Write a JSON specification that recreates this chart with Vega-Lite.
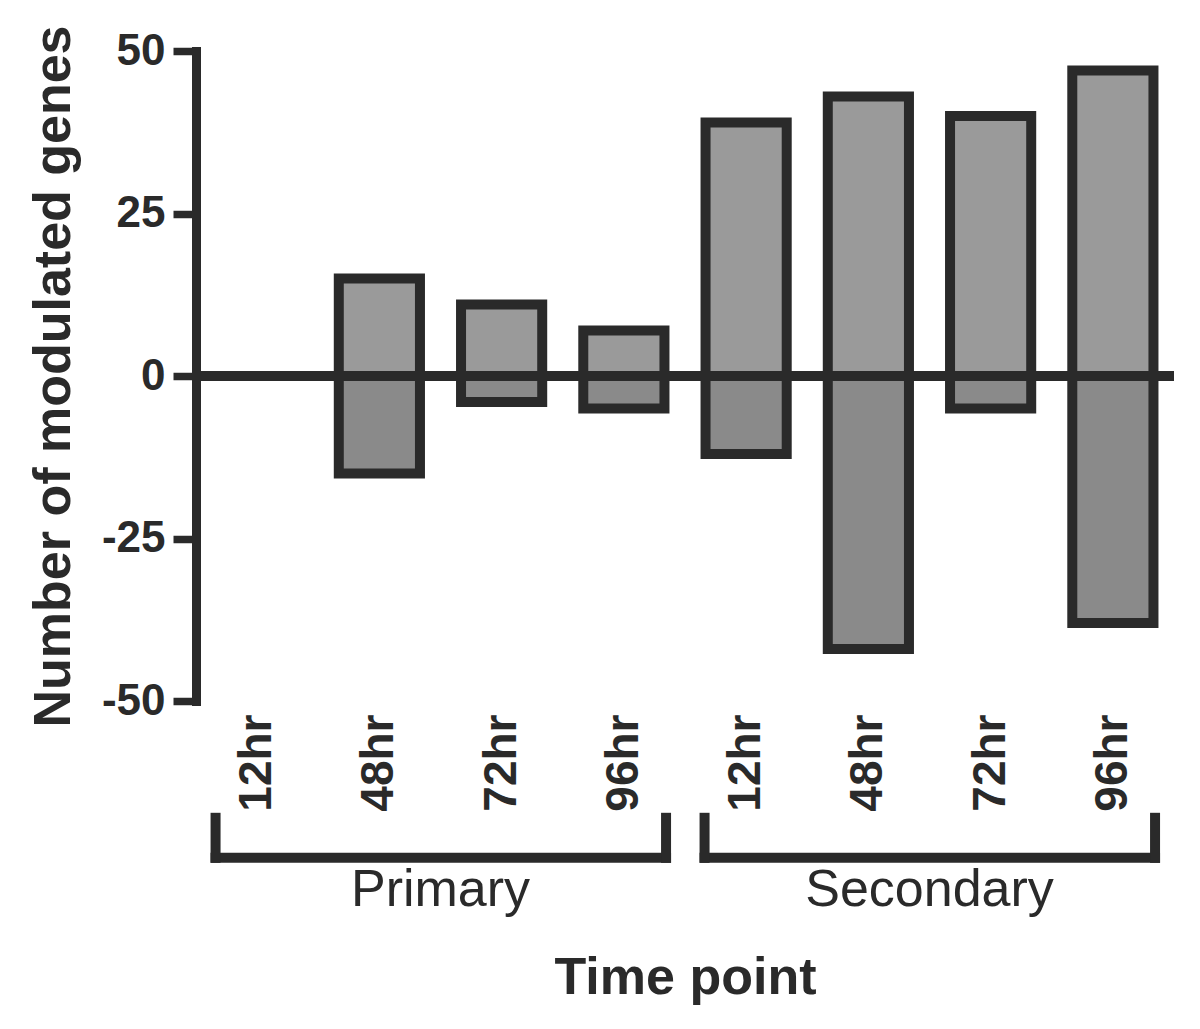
{
  "$schema": "https://vega.github.io/schema/vega-lite/v6.json",
  "width": 978,
  "height": 650,
  "autosize": {"type": "none"},
  "padding": {"left": 196, "top": 51, "right": 26, "bottom": 328},
  "background": "white",
  "config": {
    "font": "Liberation Sans",
    "view": {"stroke": null},
    "axis": {"grid": false}
  },
  "datasets": {
    "bars": [
      {"key": "Primary 12hr", "cond": "Primary", "time": "12hr", "dir": "Up", "n": 0},
      {"key": "Primary 12hr", "cond": "Primary", "time": "12hr", "dir": "Down", "n": 0},
      {"key": "Primary 48hr", "cond": "Primary", "time": "48hr", "dir": "Up", "n": 15},
      {"key": "Primary 48hr", "cond": "Primary", "time": "48hr", "dir": "Down", "n": -15},
      {"key": "Primary 72hr", "cond": "Primary", "time": "72hr", "dir": "Up", "n": 11},
      {"key": "Primary 72hr", "cond": "Primary", "time": "72hr", "dir": "Down", "n": -4},
      {"key": "Primary 96hr", "cond": "Primary", "time": "96hr", "dir": "Up", "n": 7},
      {"key": "Primary 96hr", "cond": "Primary", "time": "96hr", "dir": "Down", "n": -5},
      {"key": "Secondary 12hr", "cond": "Secondary", "time": "12hr", "dir": "Up", "n": 39},
      {"key": "Secondary 12hr", "cond": "Secondary", "time": "12hr", "dir": "Down", "n": -12},
      {"key": "Secondary 48hr", "cond": "Secondary", "time": "48hr", "dir": "Up", "n": 43},
      {"key": "Secondary 48hr", "cond": "Secondary", "time": "48hr", "dir": "Down", "n": -42},
      {"key": "Secondary 72hr", "cond": "Secondary", "time": "72hr", "dir": "Up", "n": 40},
      {"key": "Secondary 72hr", "cond": "Secondary", "time": "72hr", "dir": "Down", "n": -5},
      {"key": "Secondary 96hr", "cond": "Secondary", "time": "96hr", "dir": "Up", "n": 47},
      {"key": "Secondary 96hr", "cond": "Secondary", "time": "96hr", "dir": "Down", "n": -38}
    ],
    "groups": [
      {"cond": "Primary", "first": "Primary 12hr", "mid": "Primary 48hr", "last": "Primary 96hr"},
      {"cond": "Secondary", "first": "Secondary 12hr", "mid": "Secondary 48hr", "last": "Secondary 96hr"}
    ]
  },
  "layer": [
    {
      "data": {"name": "bars"},
      "transform": [{"filter": "datum.n != 0"}],
      "mark": {"type": "bar", "width": {"band": 0.664}, "stroke": "#2a2a2a", "strokeWidth": 10},
      "encoding": {
        "x": {
          "field": "key",
          "type": "nominal",
          "title": "Time point",
          "scale": {
            "domain": ["Primary 12hr", "Primary 48hr", "Primary 72hr", "Primary 96hr", "Secondary 12hr", "Secondary 48hr", "Secondary 72hr", "Secondary 96hr"],
            "paddingInner": 0,
            "paddingOuter": 0
          },
          "axis": {
            "domain": false,
            "ticks": false,
            "tickSize": 0,
            "labelAngle": 270,
            "labelExpr": "split(datum.label, ' ')[1]",
            "labelFontSize": 46,
            "labelFontWeight": "bold",
            "labelColor": "#2a2a2a",
            "labelPadding": 13,
            "labelOverlap": false,
            "titleFontSize": 52,
            "titleFontWeight": "bold",
            "titleColor": "#2a2a2a",
            "titlePadding": 141
          }
        },
        "y": {
          "field": "n",
          "type": "quantitative",
          "title": "Number of modulated genes",
          "scale": {"domain": [-50, 50], "nice": false, "zero": false},
          "axis": {
            "values": [-50, -25, 0, 25, 50],
            "labelExpr": "'' + datum.value",
            "domainColor": "#2a2a2a",
            "domainWidth": 9,
            "domainCap": "square",
            "tickColor": "#2a2a2a",
            "tickWidth": 7.5,
            "tickSize": 23,
            "labelFontSize": 44,
            "labelFontWeight": "bold",
            "labelColor": "#2a2a2a",
            "labelPadding": 8,
            "labelFlush": false,
            "labelOverlap": false,
            "titleFontSize": 52,
            "titleFontWeight": "bold",
            "titleColor": "#2a2a2a",
            "titlePadding": 21
          }
        },
        "fill": {
          "field": "dir",
          "type": "nominal",
          "scale": {"domain": ["Up", "Down"], "range": ["#9a9a9a", "#8a8a8a"]},
          "legend": null
        }
      }
    },
    {
      "data": {"values": [{"zero": 0}]},
      "mark": {"type": "rule", "color": "#2a2a2a", "strokeWidth": 10},
      "encoding": {"y": {"field": "zero", "type": "quantitative", "title": "Number of modulated genes"}}
    },
    {
      "data": {"name": "groups"},
      "mark": {"type": "rule", "color": "#2a2a2a", "strokeWidth": 10, "strokeCap": "square"},
      "encoding": {
        "x": {"field": "first", "type": "nominal", "bandPosition": 0.16, "title": "Time point"},
        "x2": {"field": "last", "bandPosition": 0.845},
        "y": {"datum": -74.1}
      }
    },
    {
      "data": {"name": "groups"},
      "mark": {"type": "rule", "color": "#2a2a2a", "strokeWidth": 10},
      "encoding": {
        "x": {"field": "first", "type": "nominal", "bandPosition": 0.16, "title": "Time point"},
        "y": {"datum": -67.2},
        "y2": {"datum": -74.9}
      }
    },
    {
      "data": {"name": "groups"},
      "mark": {"type": "rule", "color": "#2a2a2a", "strokeWidth": 10},
      "encoding": {
        "x": {"field": "last", "type": "nominal", "bandPosition": 0.845, "title": "Time point"},
        "y": {"datum": -67.2},
        "y2": {"datum": -74.9}
      }
    },
    {
      "data": {"name": "groups"},
      "mark": {"type": "text", "fontSize": 52, "color": "#2a2a2a", "align": "center", "baseline": "alphabetic"},
      "encoding": {
        "x": {"field": "mid", "type": "nominal", "bandPosition": 1, "title": "Time point"},
        "y": {"datum": -81.6},
        "text": {"field": "cond"}
      }
    }
  ]
}
